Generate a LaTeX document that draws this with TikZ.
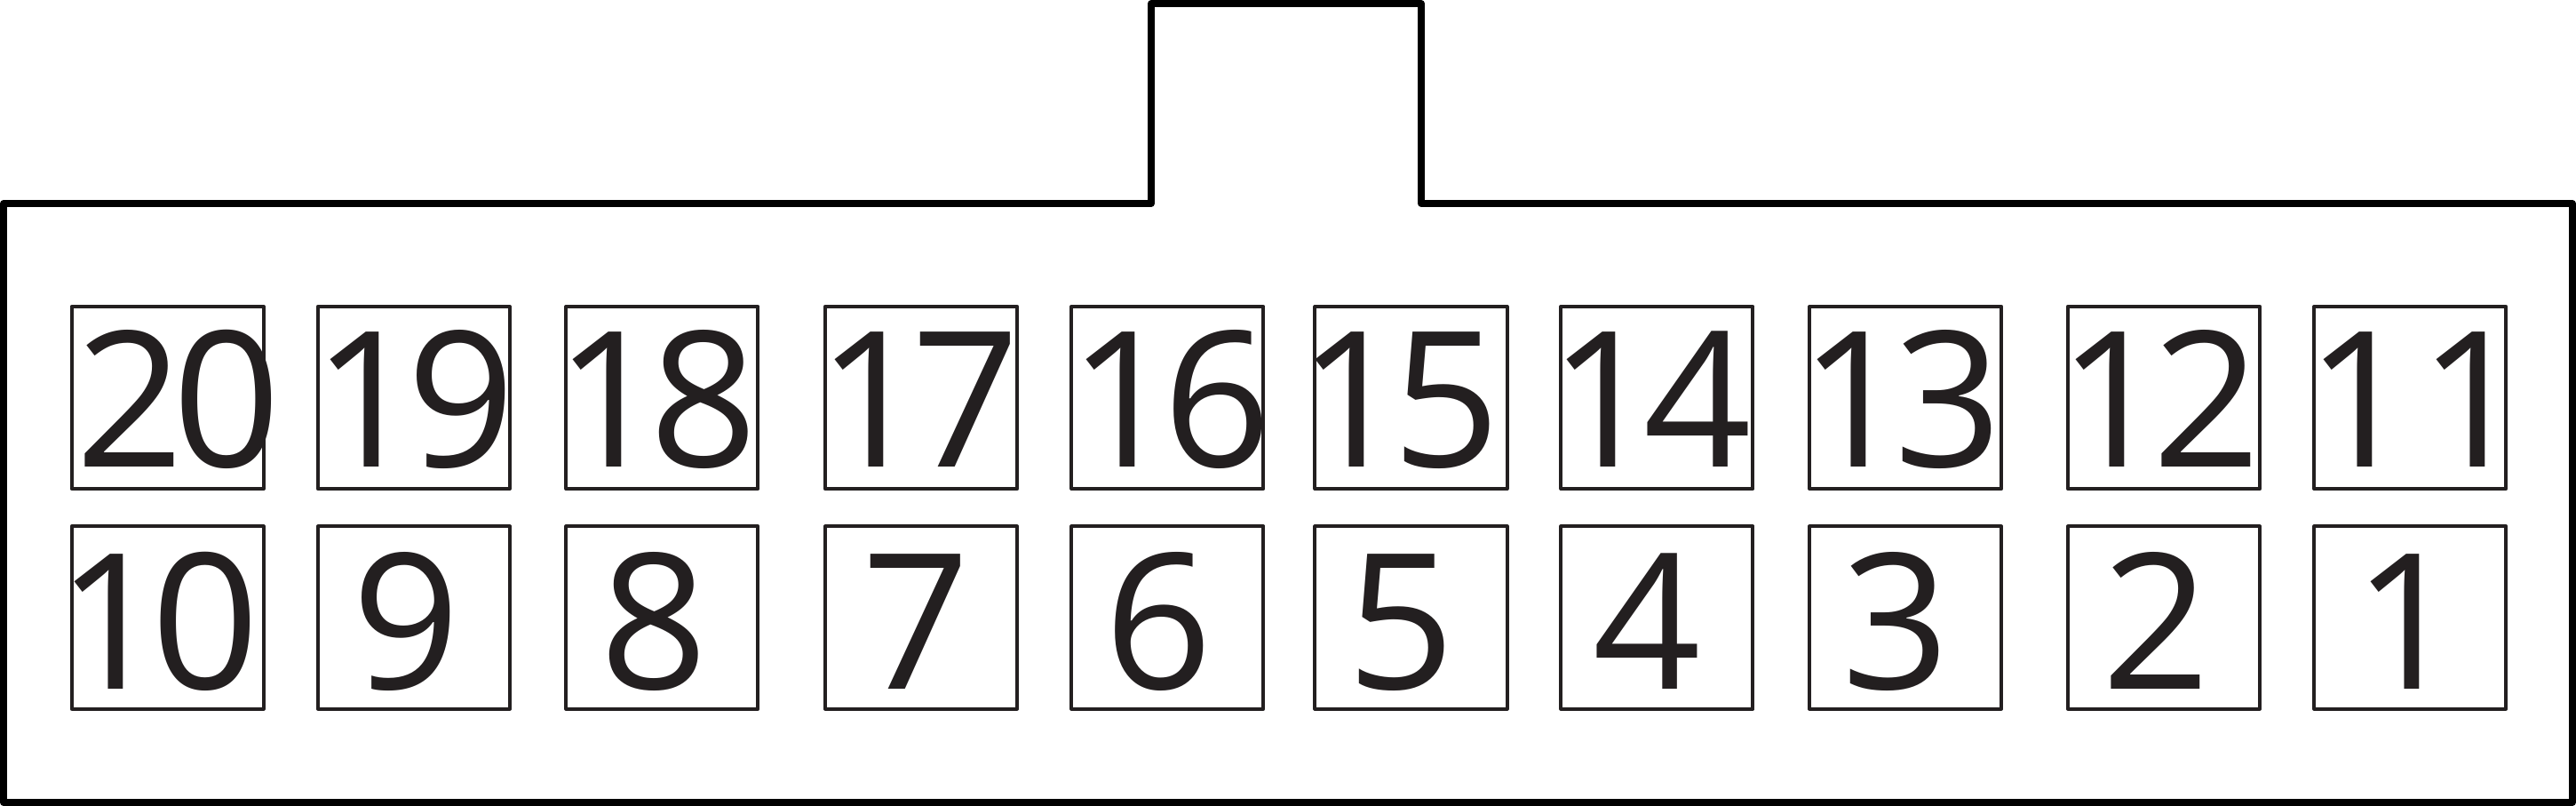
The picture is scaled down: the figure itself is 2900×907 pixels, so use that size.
\documentclass[tikz,border=0pt]{standalone}
\usepackage{fontspec}
\setmainfont{Open Sans}
\definecolor{ink}{HTML}{231F20}
\newcommand{\pinnum}[3][-4.5pt]{#2\kern#1#3}
\begin{document}
\begin{tikzpicture}[x=0.01cm,y=-0.01cm,
  pinbox/.style={draw=ink, line width=1.14pt, line join=round, rectangle, inner sep=0pt,
    minimum width=2.16cm, minimum height=2.05cm},
  pinlabel/.style={anchor=base, inner sep=0pt, text=ink, font=\fontsize{60.5}{60}\selectfont},
  housing/.style={draw=black, line width=2.28pt, line join=round}]
\useasboundingbox (0,0) rectangle (2900,907);
% housing outline
\coordinate (h1) at (4,229);
\coordinate (h2) at (1296,229);
\coordinate (h3) at (1296,4);
\coordinate (h4) at (1600,4);
\coordinate (h5) at (1600,229);
\coordinate (h6) at (2896,229);
\coordinate (h7) at (2896,903);
\coordinate (h8) at (4,903);
\draw[housing] (h1) -- (h2) -- (h3) -- (h4) -- (h5) -- (h6) -- (h7) -- (h8) -- cycle;
% pin boxes: top row 20..11, bottom row 10..1
\foreach \cx/\top/\bot in {188.75/20/10, 465.9/19/9, 745.4/18/8, 1037/17/7, 1314.4/16/6,
                           1588.5/15/5, 1865.4/14/4, 2145.1/13/3, 2436/12/2, 2713.2/11/1} {
  \node[pinbox] (b\top) at (\cx,447.5) {};
  \node[pinbox] (b\bot) at (\cx,695) {};
}
% labels (top row)
\node[pinlabel] (l20) at (200.5,526) {\pinnum[-3.5pt]{2}{0}};
\node[pinlabel] (l19) at (466,526) {\pinnum{1}{9}};
\node[pinlabel] (l18) at (739,526) {\pinnum{1}{8}};
\node[pinlabel] (l17) at (1034,526) {\pinnum{1}{7}};
\node[pinlabel] (l16) at (1317,526) {\pinnum{1}{6}};
\node[pinlabel] (l15) at (1575,526) {\pinnum{1}{5}};
\node[pinlabel] (l14) at (1858,526) {\pinnum{1}{4}};
\node[pinlabel] (l13) at (2140,526) {\pinnum{1}{3}};
\node[pinlabel] (l12) at (2431,526) {\pinnum{1}{2}};
\node[pinlabel] (l11) at (2721,526) {\pinnum[1.5pt]{1}{1}};
% labels (bottom row)
\node[pinlabel] (l10) at (178,775.7) {\pinnum{1}{0}};
\node[pinlabel] (l9) at (457.2,775.7) {9};
\node[pinlabel] (l8) at (736,775.7) {8};
\node[pinlabel] (l7) at (1031,775.7) {7};
\node[pinlabel] (l6) at (1304.8,775.7) {6};
\node[pinlabel] (l5) at (1577.8,775.7) {5};
\node[pinlabel] (l4) at (1854.7,775.7) {4};
\node[pinlabel] (l3) at (2134.7,775.7) {3};
\node[pinlabel] (l2) at (2427.5,775.7) {2};
\node[pinlabel] (l1) at (2710,775.7) {1};
\end{tikzpicture}
\end{document}
